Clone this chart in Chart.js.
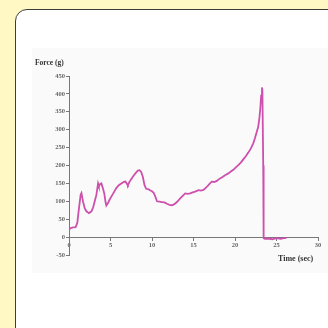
<!DOCTYPE html>
<html>
<head>
<meta charset="utf-8">
<script src="https://cdn.jsdelivr.net/npm/chart.js@4"></script>
<style>
  html, body { margin: 0; padding: 0; }
  body { width: 328px; height: 328px; background: #fff8c4; overflow: hidden; position: relative; }
  #card { position: absolute; left: 15px; top: 9px; width: 330px; height: 330px;
          background: #fff; border: 1.5px solid #3c3c3c; border-radius: 12px; }
  #plot { position: absolute; left: 32px; top: 48px; width: 296px; height: 225px; background: #fafafa; }
  .lbl { position: absolute; font-family: "Liberation Serif", serif; font-weight: bold; color: #333; white-space: nowrap; }
  #ylab { left: 35px; top: 58px; font-size: 7.5px; }
  #xlab { left: 278px; top: 254px; font-size: 8px; }
</style>
</head>
<body>
<div id="card"></div>
<div id="plot"><canvas id="myChart" width="296" height="225"></canvas></div>
<div class="lbl" id="ylab">Force (g)</div>
<div class="lbl" id="xlab">Time (sec)</div>
<script>
// time in seconds, force in grams
const times = [
  0.0, 0.2, 0.5, 0.8, 1.0, 1.2, 1.4, 1.5, 1.7, 1.9, 2.1, 2.4, 2.7, 2.9, 3.1, 3.3,
  3.5, 3.6, 3.75, 3.9, 4.1, 4.25, 4.4, 4.5, 4.7, 4.9, 5.1, 5.4, 5.7, 6.0, 6.3, 6.6,
  6.8, 7.0, 7.1, 7.3, 7.55, 7.8, 8.0, 8.3, 8.5, 8.7, 8.9, 9.1, 9.3, 9.55, 9.8, 10.0,
  10.2, 10.4, 10.6, 10.9, 11.2, 11.5, 11.8, 12.1, 12.4, 12.7, 13.0, 13.4, 13.7, 14.0,
  14.3, 14.6, 14.9, 15.2, 15.6, 15.9, 16.2, 16.6, 16.9, 17.2, 17.5, 17.8, 18.2, 18.5,
  18.8, 19.2, 19.5, 19.8, 20.1, 20.4, 20.7, 21.0, 21.3, 21.6, 21.9, 22.2, 22.4, 22.6,
  22.8, 22.95, 23.05, 23.15, 23.25, 23.3, 23.4, 23.45, 23.6, 24.0, 24.5, 25.0, 25.5,
  26.0, 26.2
];
const forces = [
  22, 25, 27, 28, 40, 80, 118, 123, 98, 80, 72, 67, 72, 82, 100, 118,
  150, 142, 148, 150, 135, 122, 98, 88, 95, 105, 113, 125, 137, 145, 150, 154,
  155, 148, 145, 155, 164, 172, 178, 186, 187, 182, 168, 145, 135, 134, 130, 128,
  124, 113, 100, 99, 98, 97, 93, 90, 89, 92, 98, 108, 115, 122,
  121, 122, 125, 127, 131, 130, 132, 140, 148, 155, 154, 157, 164, 168,
  173, 178, 183, 188, 195, 201, 208, 217, 226, 236, 247, 262, 276, 292,
  308, 335, 360, 395, 418, 410, 200, -3, -5, -4, -6, -3, -5,
  -2, -3
];

// axis ticks
const yTicks = [-50, 0, 50, 100, 150, 200, 250, 300, 350, 400, 450];
const xTicks = [0, 5, 10, 15, 20, 25, 30];

const points = times.map((t, i) => ({ x: t, y: forces[i] }));
const tickFont = { family: "Liberation Serif", size: 6.5, weight: "bold" };

new Chart("myChart", {
    type: "line",
    data: {
        datasets: [{
            data: points,
            borderColor: "rgb(205, 80, 172)",
            borderWidth: 1.8,
            pointRadius: 0,
            tension: 0,
            fill: false
        }]
    },
    options: {
        responsive: false,
        animation: false,
        events: [],
        layout: { padding: { top: 28, bottom: 18, right: 10, left: 0 } },
        plugins: { legend: { display: false }, tooltip: { enabled: false } },
        scales: {
            x: {
                type: "linear",
                position: { y: 0 },
                min: 0, max: 30,
                afterBuildTicks: (axis) => { axis.ticks = xTicks.map(v => ({ value: v })); },
                grid: { drawOnChartArea: false, tickLength: 3, color: "#777" },
                border: { color: "#777", width: 1 },
                ticks: { color: "#666", font: tickFont, padding: 1, maxRotation: 0 }
            },
            y: {
                type: "linear",
                min: -50, max: 450,
                afterBuildTicks: (axis) => { axis.ticks = yTicks.map(v => ({ value: v })); },
                afterFit: (axis) => { axis.width = 37; },
                grid: { drawOnChartArea: false, tickLength: 3, color: "#777" },
                border: { color: "#777", width: 1 },
                ticks: { color: "#666", font: tickFont, padding: 1 }
            }
        }
    }
});
</script>
</body>
</html>
